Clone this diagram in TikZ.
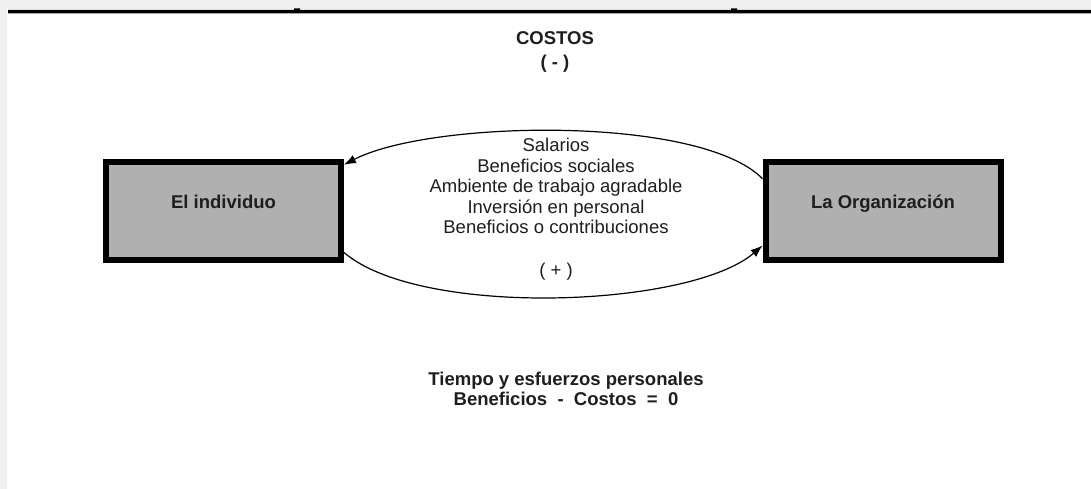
\documentclass[tikz,border=0pt]{standalone}
\usepackage{fontspec}
\setmainfont{Liberation Sans}
\usetikzlibrary{arrows.meta}
\definecolor{boxgray}{HTML}{B0B0B0}
\definecolor{pagegray}{HTML}{F0F0F0}
\definecolor{ink}{HTML}{1E1E1E}
\begin{document}
\begin{tikzpicture}[x=1pt,y=-1pt,
    actor/.style={draw=black,line width=6pt,fill=boxgray,minimum width=235pt,minimum height=98pt,
        text height=13pt,text depth=18pt,text=ink,font=\fontsize{18.5}{20}\selectfont\bfseries},
    words/.style={align=center,text=ink,font=\fontsize{18.5}{20.5}\selectfont},
    heading/.style={words,font=\fontsize{18.5}{20}\selectfont\bfseries},
    flow/.style={line width=1.2pt,-{Latex[length=12pt,width=9pt]}}]
    \useasboundingbox (0,0) rectangle (1091,489);
    \fill[white] (0,0) rectangle (1091,489);
    \fill[pagegray] (0,0) rectangle (1091,9) (0,0) rectangle (7,489);
    \fill[black] (8,10) rectangle (1091,13.5) (294,8.5) rectangle (300,10) (731,8.5) rectangle (737,10);
    \node[actor] (ind) at (223.5,211) {El individuo};
    \node[actor] (org) at (883,211) {La Organización};
    \node[heading,anchor=base] (costos) at (555,45) {COSTOS};
    \node[heading,anchor=base] (minus) at (555,68.5) {( - )};
    \node[words] (gains) at (556,186) {Salarios\\Beneficios sociales\\Ambiente de trabajo agradable\\Inversión en personal\\Beneficios o contribuciones};
    \node[words,anchor=base] (plus) at (556,276.5) {( + )};
    \node[heading] (balance) at (566,389) {Tiempo y esfuerzos personales\\Beneficios\ \ -\ \ Costos\ \ =\ \ 0};
    \draw[flow] (org.165) .. controls (700,115) and (430,120) .. (ind.21);
    \draw[flow] (ind.-19) .. controls (420,318) and (690,308) .. (org.196);
\end{tikzpicture}
\end{document}
